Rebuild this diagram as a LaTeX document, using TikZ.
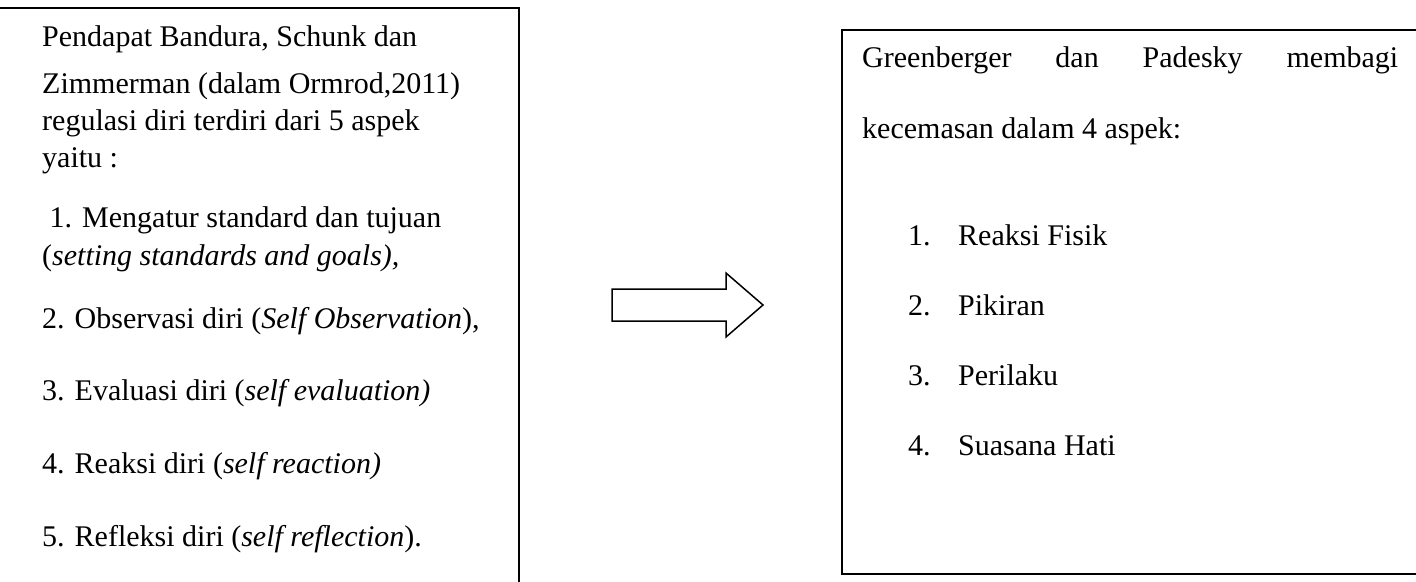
\documentclass[tikz,border=0pt]{standalone}
\usepackage{fontspec}
\setmainfont{Liberation Serif}
\begin{document}
\begin{tikzpicture}[x=1pt,y=-1pt,
  txt/.style={anchor=base west,inner sep=0pt,font=\fontsize{30}{35}\selectfont},
  frame/.style={draw=black,line width=1.6pt},
  bigarrow/.style={draw=black,line width=1.5pt,fill=white,line join=miter}]
\useasboundingbox (0,0) rectangle (1416,581);
\clip (0,0) rectangle (1416,581);
% left box
\draw[frame] (-10,8) rectangle (519,600);
\node[txt] (l1) at (42,46) {Pendapat Bandura, Schunk dan};
\node[txt] (l2) at (42,93) {Zimmerman (dalam Ormrod,2011)};
\node[txt] (l3) at (42,130) {regulasi diri terdiri dari 5 aspek};
\node[txt] (l4) at (42,167) {yaitu :};
\node[txt] (l5) at (42,227) {\ 1. Mengatur standard dan tujuan};
\node[txt] (l6) at (42,265) {(\textit{setting standards and goals),}};
\node[txt] (l7) at (42,328) {2. Observasi diri (\textit{Self Observation}),};
\node[txt] (l8) at (42,400) {3. Evaluasi diri (\textit{self evaluation)}};
\node[txt] (l9) at (42,473) {4. Reaksi diri (\textit{self reaction)}};
\node[txt] (l10) at (42,546) {5. Refleksi diri (\textit{self reflection}).};
% arrow
\draw[bigarrow] (612,289) coordinate (a1) -- (726,289) -- (726,273) -- (763,305) coordinate (tip) -- (726,337) -- (726,321) -- (612,321) -- cycle;
% right box
\draw[frame] (842,30) rectangle (1430,574);
\node[txt] (r1) at (862,67) {\makebox[536pt][s]{Greenberger\hfill dan\hfill Padesky\hfill membagi}};
\node[txt] (r2) at (862,138) {kecemasan dalam 4 aspek:};
\node[txt] (n1) at (908,245) {1.};
\node[txt] (i1) at (958,245) {Reaksi Fisik};
\node[txt] (n2) at (908,315) {2.};
\node[txt] (i2) at (958,315) {Pikiran};
\node[txt] (n3) at (908,385) {3.};
\node[txt] (i3) at (958,385) {Perilaku};
\node[txt] (n4) at (908,455) {4.};
\node[txt] (i4) at (958,455) {Suasana Hati};
\end{tikzpicture}
\end{document}
